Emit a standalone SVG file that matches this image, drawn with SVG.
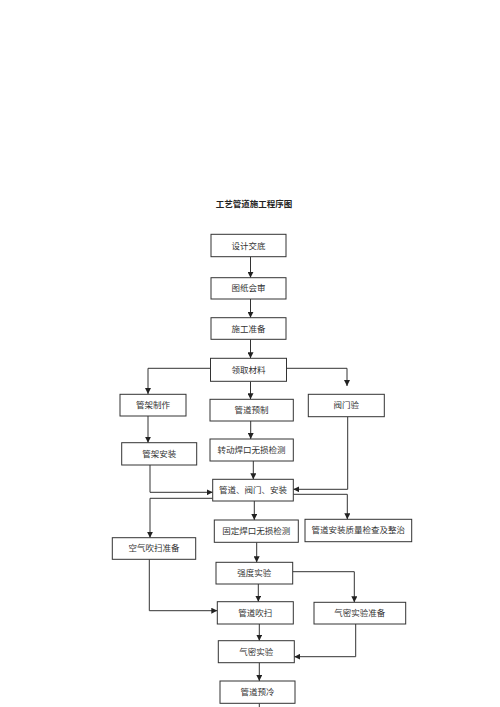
<svg xmlns="http://www.w3.org/2000/svg" width="500" height="707" viewBox="0 0 500 707">
<style>
.b{fill:#fff;stroke:#333;stroke-width:1}
.t{font-family:"Liberation Serif","Noto Sans CJK SC",serif;font-size:8.5px;fill:#333;text-anchor:middle}
.title{font-family:"Liberation Serif","Noto Sans CJK SC",serif;font-size:8.5px;font-weight:bold;fill:#222;text-anchor:middle}
.c{fill:none;stroke:#333;stroke-width:1}
.a{marker-end:url(#ah)}
</style>
<defs>
<marker id="ah" markerUnits="userSpaceOnUse" markerWidth="6" markerHeight="6" refX="6" refY="3" orient="auto">
<path d="M0,0 L6,3 L0,6 z" fill="#222"/>
</marker>
</defs>
<rect width="500" height="707" fill="#fff"/>
<text class="title" x="254" y="207">工艺管道施工程序图</text>
<g id="connectors">
<path class="c a" d="M250.5,256.7 V277.7"/>
<path class="c a" d="M250.5,299 V317.7"/>
<path class="c a" d="M250.5,339.3 V358.3"/>
<path class="c a" d="M211,368.3 H148 V394"/>
<path class="c a" d="M250.5,381.5 V399.3"/>
<path class="c a" d="M286,368.3 H347 V386"/>
<path class="c a" d="M148,416 V442.7"/>
<path class="c a" d="M250.7,421 V439"/>
<path class="c a" d="M347.7,416.7 V489.3 H293.3"/>
<path class="c a" d="M150,465 V492.3 H212.7"/>
<path class="c a" d="M253.3,461 V479.3"/>
<path class="c a" d="M212.7,498.3 H150 V537.7"/>
<path class="c a" d="M254.3,501 V520"/>
<path class="c a" d="M293.3,494.3 H347.3 V519.3"/>
<path class="c a" d="M256.7,542.3 V562.3"/>
<path class="c a" d="M149.3,559.3 V610.7 H217.3"/>
<path class="c a" d="M258.3,584 V601.7"/>
<path class="c a" d="M292.7,571.7 H354.3 V602.3"/>
<path class="c a" d="M259.3,624 V640.7"/>
<path class="c a" d="M355.7,624 V656.7 H294.3"/>
<path class="c a" d="M259.3,662.7 V681"/>
<path class="c" d="M259.3,703.3 V707"/>
</g>
<g id="n1"><rect class="b" x="211" y="234.3" width="75" height="22.4"/><text class="t" x="248.5" y="248.5">设计交底</text></g>
<g id="n2"><rect class="b" x="211" y="277.7" width="75" height="21.3"/><text class="t" x="248.5" y="291.3">图纸会审</text></g>
<g id="n3"><rect class="b" x="211" y="317.7" width="75" height="21.6"/><text class="t" x="248.5" y="331.5">施工准备</text></g>
<g id="n4"><rect class="b" x="210.5" y="358.3" width="76" height="23"/><text class="t" x="248.5" y="372.8">领取材料</text></g>
<g id="n5"><rect class="b" x="120" y="394.3" width="66" height="21.7"/><text class="t" x="153" y="408">管架制作</text></g>
<g id="n6"><rect class="b" x="210" y="399.3" width="83.3" height="21.7"/><text class="t" x="251.6" y="413">管道预制</text></g>
<g id="n7"><rect class="b" x="308.3" y="394.3" width="76" height="22.4"/><text class="t" x="346.3" y="408.3">阀门验</text></g>
<g id="n8"><rect class="b" x="121.7" y="442.7" width="75" height="22.3"/><text class="t" x="159.2" y="456.7">管架安装</text></g>
<g id="n9"><rect class="b" x="210" y="439" width="83.3" height="22"/><text class="t" x="251.6" y="452.8">转动焊口无损检测</text></g>
<g id="n10"><rect class="b" x="212.7" y="479.3" width="80.6" height="21.7"/><text class="t" x="253" y="493">管道、阀门、安装</text></g>
<g id="n11"><rect class="b" x="214.3" y="520" width="84" height="22.3"/><text class="t" x="256.3" y="534">固定焊口无损检测</text></g>
<g id="n12"><rect class="b" x="305" y="519.3" width="106.7" height="22.4"/><text class="t" x="358.3" y="533.3">管道安装质量检查及整治</text></g>
<g id="n13"><rect class="b" x="112.3" y="537.7" width="83.4" height="21.6"/><text class="t" x="154" y="551.3">空气吹扫准备</text></g>
<g id="n14"><rect class="b" x="216" y="562.3" width="76.7" height="21.7"/><text class="t" x="254.3" y="576">强度实验</text></g>
<g id="n15"><rect class="b" x="217.3" y="601.7" width="76" height="22.3"/><text class="t" x="255.3" y="615.6">管道吹扫</text></g>
<g id="n16"><rect class="b" x="314" y="602.3" width="91.7" height="21.7"/><text class="t" x="359.8" y="616">气密实验准备</text></g>
<g id="n17"><rect class="b" x="218.3" y="640.7" width="76" height="22"/><text class="t" x="256.3" y="654.5">气密实验</text></g>
<g id="n18"><rect class="b" x="220" y="681" width="75" height="22.3"/><text class="t" x="257.5" y="695">管道预冷</text></g>
</svg>
